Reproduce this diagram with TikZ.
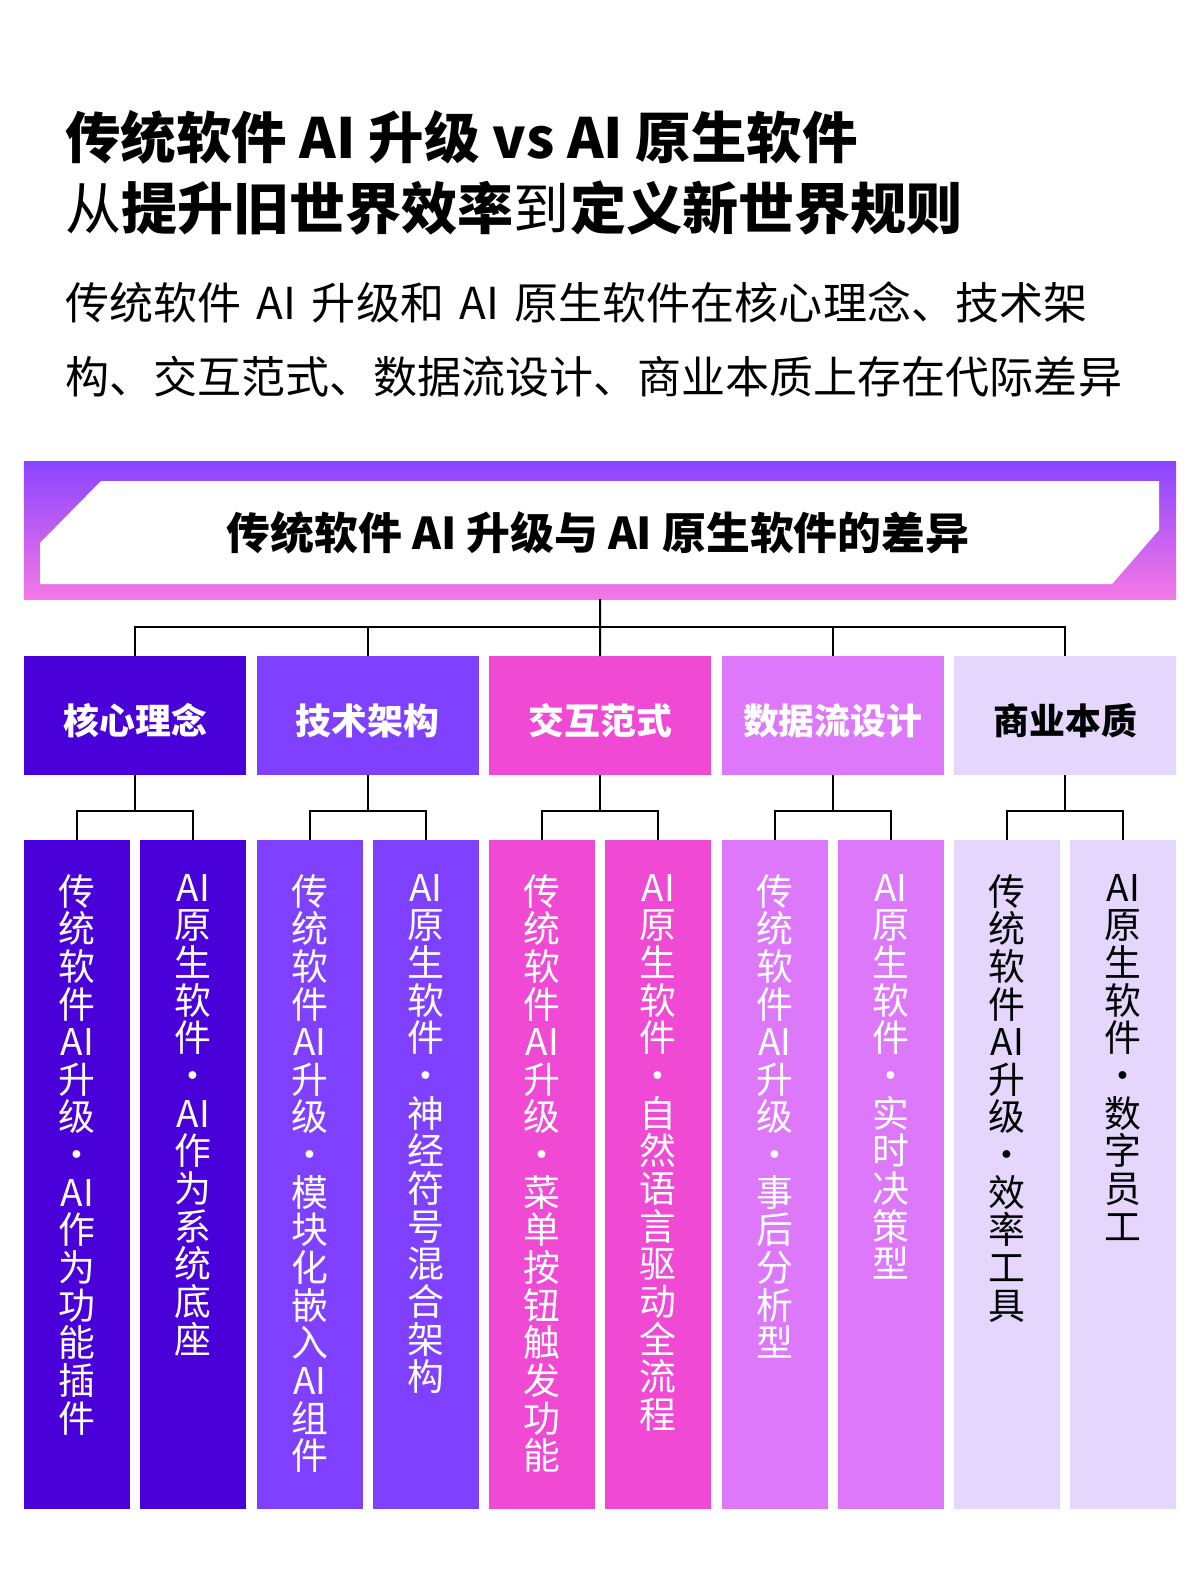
\documentclass[tikz,border=0pt]{standalone}
\usepackage{fontspec}
\setmainfont{Noto Sans CJK SC}
\usetikzlibrary{positioning}

\definecolor{cone}{HTML}{4A00D8}
\definecolor{ctwo}{HTML}{8040FF}
\definecolor{cthree}{HTML}{F04AD4}
\definecolor{cfour}{HTML}{DE78FA}
\definecolor{cfive}{HTML}{E4D6FC}
\definecolor{bantop}{HTML}{8A44FF}
\definecolor{banbot}{HTML}{F578E6}

\newcommand\gap{\hspace{15.5bp}}

\begin{document}
\begin{tikzpicture}[x=1bp, y=-1bp,
  catbox/.style={rectangle, inner sep=0, minimum width=222bp, minimum height=119bp, anchor=north west, text height=37bp, text depth=0bp, font=\fontsize{36}{40}\selectfont\bfseries, text=white},
  leafbox/.style={rectangle, inner sep=0, minimum width=106bp, minimum height=669bp, anchor=north west},
  leaftxt/.style={inner sep=0, align=center, font=\fontsize{37}{37.8}\selectfont, text=white},
  link/.style={line width=2bp}]

\fill[white] (0,0) rectangle (1200,1574);
\useasboundingbox (0,0) rectangle (1200,1574);

% heading and lead text
\node [anchor=base west, inner sep=0, font=\fontsize{55.7}{60}\selectfont\bfseries] (title1) at (65,158) {传统软件 AI 升级 vs AI 原生软件};
\node [anchor=base west, inner sep=0, font=\fontsize{56.3}{60}\selectfont] (title2) at (65,229) {从\textbf{提升旧世界效率}到\textbf{定义新世界规则}};
\node [anchor=base west, inner sep=0, font=\fontsize{44.2}{48}\selectfont] (lead1) at (65,319) {传统软件\gap AI\gap 升级和\gap AI\gap 原生软件在核心理念、技术架};
\node [anchor=base west, inner sep=0, font=\fontsize{44.2}{48}\selectfont] (lead2) at (65,393) {构、交互范式、数据流设计、商业本质上存在代际差异};

% banner
\node [rectangle, inner sep=0, minimum width=1152bp, minimum height=138bp, top color=bantop, bottom color=banbot] (banner) at (600,530) {};
\fill[white] (101,481) -- (1159,481) -- (1159,530) -- (1112,584) -- (40,584) -- (40,543) -- cycle;
\node [font=\fontsize{44}{48}\selectfont\bfseries] (head) at (598,533) {传统软件 AI 升级与 AI 原生软件的差异};

% categories
\node [catbox, fill=cone] (c1) at (24,656) {核心理念};
\node [catbox, fill=ctwo] (c2) at (256.5,656) {技术架构};
\node [catbox, fill=cthree] (c3) at (489,656) {交互范式};
\node [catbox, fill=cfour] (c4) at (721.5,656) {数据流设计};
\node [catbox, fill=cfive, text=black] (c5) at (954,656) {商业本质};

\draw[link] (banner.south) -- ++(0,28) -| (c1.north);
\draw[link] (banner.south) -- ++(0,28) -| (c2.north);
\draw[link] (banner.south) -- (c3.north);
\draw[link] (banner.south) -- ++(0,28) -| (c4.north);
\draw[link] (banner.south) -- ++(0,28) -| (c5.north);

% leaves
\node [leafbox, fill=cone] (l1) at (24,840) {};
\node [leafbox, fill=cone] (l2) at (140,840) {};
\node [leafbox, fill=ctwo] (l3) at (256.5,840) {};
\node [leafbox, fill=ctwo] (l4) at (372.5,840) {};
\node [leafbox, fill=cthree] (l5) at (489,840) {};
\node [leafbox, fill=cthree] (l6) at (605,840) {};
\node [leafbox, fill=cfour] (l7) at (721.5,840) {};
\node [leafbox, fill=cfour] (l8) at (837.5,840) {};
\node [leafbox, fill=cfive] (l9) at (954,840) {};
\node [leafbox, fill=cfive] (l10) at (1070,840) {};

\node [leaftxt, below=34bp of l1.north] (t1) {传\\统\\软\\件\\AI\\升\\级\\·\\AI\\作\\为\\功\\能\\插\\件};
\node [leaftxt, below=34bp of l2.north] (t2) {AI\\原\\生\\软\\件\\·\\AI\\作\\为\\系\\统\\底\\座};
\node [leaftxt, below=34bp of l3.north] (t3) {传\\统\\软\\件\\AI\\升\\级\\·\\模\\块\\化\\嵌\\入\\AI\\组\\件};
\node [leaftxt, below=34bp of l4.north] (t4) {AI\\原\\生\\软\\件\\·\\神\\经\\符\\号\\混\\合\\架\\构};
\node [leaftxt, below=34bp of l5.north] (t5) {传\\统\\软\\件\\AI\\升\\级\\·\\菜\\单\\按\\钮\\触\\发\\功\\能};
\node [leaftxt, below=34bp of l6.north] (t6) {AI\\原\\生\\软\\件\\·\\自\\然\\语\\言\\驱\\动\\全\\流\\程};
\node [leaftxt, below=34bp of l7.north] (t7) {传\\统\\软\\件\\AI\\升\\级\\·\\事\\后\\分\\析\\型};
\node [leaftxt, below=34bp of l8.north] (t8) {AI\\原\\生\\软\\件\\·\\实\\时\\决\\策\\型};
\node [leaftxt, below=34bp of l9.north, text=black] (t9) {传\\统\\软\\件\\AI\\升\\级\\·\\效\\率\\工\\具};
\node [leaftxt, below=34bp of l10.north, text=black] (t10) {AI\\原\\生\\软\\件\\·\\数\\字\\员\\工};

\draw[link] (c1.south) -- ++(0,36) -| (l1.north);
\draw[link] (c1.south) -- ++(0,36) -| (l2.north);
\draw[link] (c2.south) -- ++(0,36) -| (l3.north);
\draw[link] (c2.south) -- ++(0,36) -| (l4.north);
\draw[link] (c3.south) -- ++(0,36) -| (l5.north);
\draw[link] (c3.south) -- ++(0,36) -| (l6.north);
\draw[link] (c4.south) -- ++(0,36) -| (l7.north);
\draw[link] (c4.south) -- ++(0,36) -| (l8.north);
\draw[link] (c5.south) -- ++(0,36) -| (l9.north);
\draw[link] (c5.south) -- ++(0,36) -| (l10.north);

\end{tikzpicture}
\end{document}
